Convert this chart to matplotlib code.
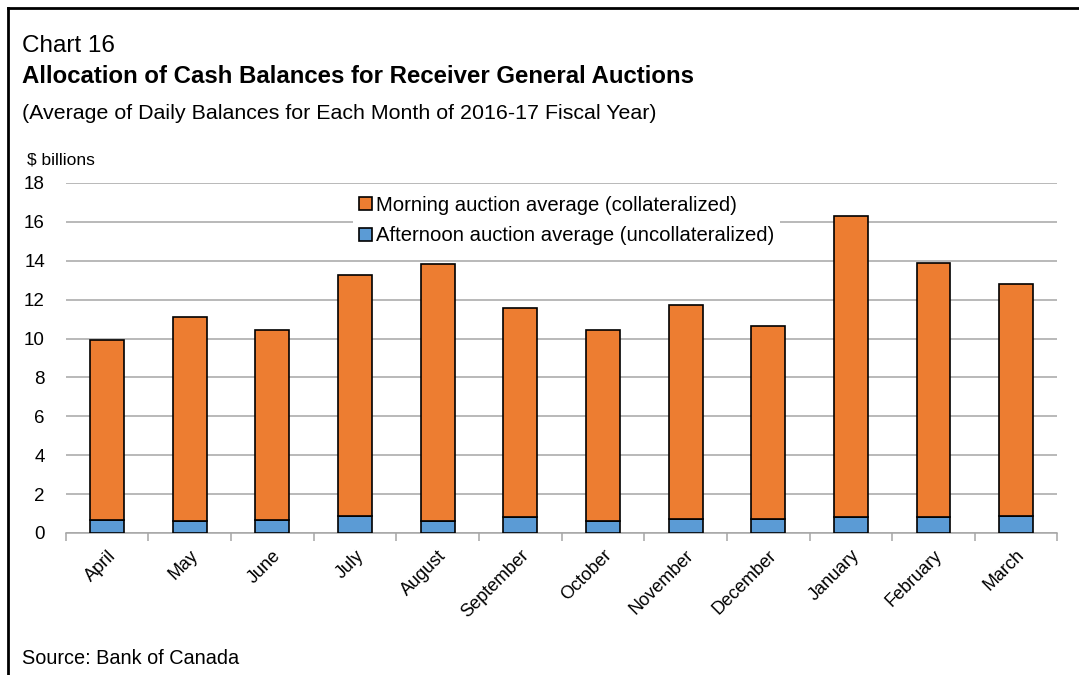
import matplotlib.pyplot as plt
import numpy as np
from matplotlib.lines import Line2D

plt.rcParams['font.family'] = ['Liberation Sans', 'DejaVu Sans']

# data ($ billions)
months = ['April', 'May', 'June', 'July', 'August', 'September', 'October',
          'November', 'December', 'January', 'February', 'March']
afternoon = [0.68, 0.63, 0.68, 0.85, 0.63, 0.80, 0.63, 0.70, 0.70, 0.80, 0.80, 0.87]
morning = [9.23, 10.49, 9.78, 12.40, 13.19, 10.78, 9.83, 11.05, 9.93, 15.49, 13.06, 11.96]

orange = '#ED7D31'
blue = '#5B9BD5'

fig = plt.figure(figsize=(10.79, 6.75), dpi=100)
ax = fig.add_axes([0.061, 0.2104, 0.919, 0.5185])

x = np.arange(len(months))
ax.bar(x, afternoon, width=0.41, color=blue, edgecolor='black', linewidth=1.2,
       label='Afternoon auction average (uncollateralized)', zorder=3)
ax.bar(x, morning, bottom=afternoon, width=0.41, color=orange, edgecolor='black',
       linewidth=1.2, label='Morning auction average (collateralized)', zorder=3)

ax.set_ylim(0, 18)
ax.set_xlim(-0.5, len(months) - 0.5)
ax.set_yticks(range(0, 19, 2))
ax.grid(axis='y', color='#A6A6A6', linewidth=1.1, zorder=0)
for s in ['top', 'right', 'left']:
    ax.spines[s].set_visible(False)
ax.spines['bottom'].set_color('#A6A6A6')
ax.spines['bottom'].set_linewidth(1.1)
ax.tick_params(axis='y', length=0, labelsize=13.5, pad=15)

# month labels at centres, tick marks at the category boundaries
ax.set_xticks(x)
ax.set_xticklabels(months, rotation=45, ha='right', rotation_mode='anchor', fontsize=13)
ax.tick_params(axis='x', which='major', length=0, pad=10)
ax.set_xticks(np.arange(-0.5, len(months)), minor=True)
ax.tick_params(axis='x', which='minor', length=6, color='#A6A6A6', width=1.1)

handles, labels = ax.get_legend_handles_labels()
leg = ax.legend(handles[::-1], labels[::-1], loc='upper left', bbox_to_anchor=(0.29, 0.98),
                fontsize=14.6, frameon=True, framealpha=1, edgecolor='white',
                handlelength=0.6, handleheight=0.6, handletextpad=0.2,
                labelspacing=0.55, borderpad=0.3, borderaxespad=0)
leg.get_frame().set_linewidth(0)
leg.set_zorder(4)

fig.text(0.020, 0.932, 'Chart 16', fontsize=17.5, va='center')
fig.text(0.020, 0.887, 'Allocation of Cash Balances for Receiver General Auctions',
         fontsize=17.3, fontweight='bold', va='center')
fig.text(0.020, 0.832, '(Average of Daily Balances for Each Month of 2016-17 Fiscal Year)',
         fontsize=15.4, va='center')
fig.text(0.025, 0.763, '$ billions', fontsize=12.5, va='center')
fig.text(0.020, 0.024, 'Source: Bank of Canada', fontsize=14.3, va='center')

# outer frame (top and left edges visible)
fig.add_artist(Line2D([0.0075, 1.0], [0.988, 0.988], color='black', linewidth=2,
                      transform=fig.transFigure))
fig.add_artist(Line2D([0.0075, 0.0075], [0.0, 0.988], color='black', linewidth=2,
                      transform=fig.transFigure))

fig.savefig('out.png', dpi=100)
